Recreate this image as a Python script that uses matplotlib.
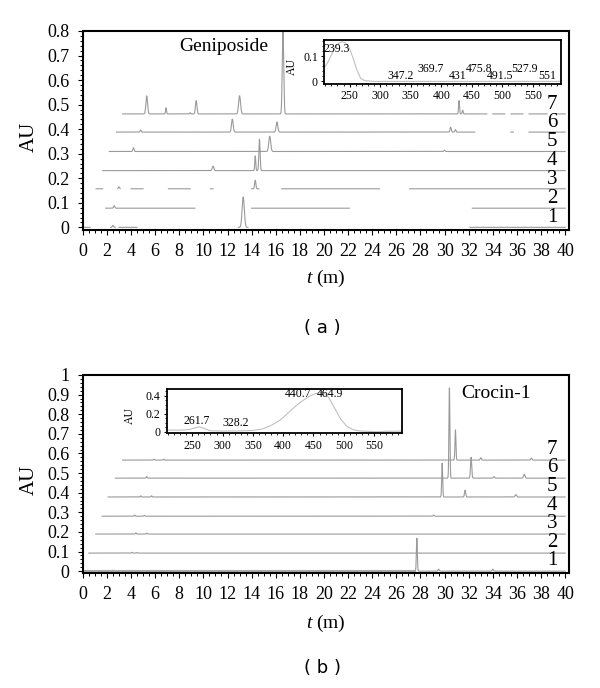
import numpy as np
import matplotlib
matplotlib.use("Agg")
import matplotlib.pyplot as plt
from matplotlib.ticker import MultipleLocator, FuncFormatter

plt.rcParams['font.family'] = ['Liberation Serif', 'DejaVu Serif']
plt.rcParams['mathtext.fontset'] = 'custom'
plt.rcParams['mathtext.it'] = 'Liberation Serif:italic'
plt.rcParams['mathtext.rm'] = 'Liberation Serif'

# ---- chromatograms (a): baseline, start time, peaks (time, height, sigma), visible spans
gen_base = [0.0, 0.078, 0.157, 0.231, 0.309, 0.388, 0.462]
gen_start = [0.0, 1.9, 1.1, 1.65, 2.2, 2.8, 3.3]
gen_peaks = [
    [(2.5, 0.008, 0.05), (13.3, 0.124, 0.09)],
    [(2.6, 0.010, 0.05)],
    [(3.0, 0.008, 0.05), (14.3, 0.035, 0.05)],
    [(10.8, 0.018, 0.07), (14.3, 0.060, 0.04), (14.65, 0.128, 0.05)],
    [(4.2, 0.015, 0.05), (15.5, 0.062, 0.08), (30.0, 0.005, 0.05)],
    [(4.8, 0.008, 0.05), (12.4, 0.053, 0.07), (16.1, 0.041, 0.07),
     (30.5, 0.020, 0.05), (30.9, 0.010, 0.05)],
    [(5.3, 0.074, 0.07), (6.9, 0.025, 0.04), (8.9, 0.005, 0.04), (9.4, 0.054, 0.06),
     (13.0, 0.074, 0.08), (16.6, 0.335, 0.06), (31.2, 0.054, 0.04), (31.5, 0.015, 0.04)],
]
gen_spans = [
    [(0, 0.6), (2.3, 2.7), (3.0, 4.5), (12.9, 13.7), (32.1, 40)],
    [(1.9, 9.3), (14.0, 22.1), (32.3, 40)],
    [(1.1, 1.65), (2.9, 3.1), (4.0, 5.0), (7.1, 8.9), (10.6, 10.8), (14.0, 14.6),
     (16.5, 24.6), (27.1, 40)],
    [(1.65, 40)],
    [(2.2, 40)],
    [(2.8, 32.5), (35.5, 35.7), (37.0, 40)],
    [(3.3, 33.5), (34.0, 35.0), (35.5, 36.5), (37.0, 38.5), (39.2, 40)],
]

# ---- chromatograms (b)
cro_base = [0.0, 0.092, 0.189, 0.28, 0.378, 0.474, 0.566]
cro_start = [0.0, 0.5, 1.07, 1.6, 2.1, 2.7, 3.3]
cro_peaks = [
    [(2.5, 0.005, 0.05), (27.7, 0.168, 0.04), (29.5, 0.010, 0.05), (34.0, 0.010, 0.05)],
    [(4.1, 0.004, 0.04), (4.5, 0.003, 0.04)],
    [(4.4, 0.006, 0.04), (5.3, 0.005, 0.04)],
    [(4.3, 0.006, 0.04), (5.1, 0.005, 0.04), (29.1, 0.006, 0.05)],
    [(4.8, 0.006, 0.04), (5.7, 0.006, 0.04), (29.8, 0.172, 0.04),
     (31.7, 0.035, 0.05), (35.9, 0.012, 0.06)],
    [(5.3, 0.008, 0.04), (30.4, 0.460, 0.04), (32.2, 0.106, 0.05),
     (34.1, 0.008, 0.05), (36.6, 0.020, 0.06)],
    [(5.9, 0.005, 0.04), (6.7, 0.005, 0.04), (30.9, 0.154, 0.04),
     (33.0, 0.012, 0.05), (37.2, 0.010, 0.05)],
]

# ---- UV spectra (insets)
gen_wl = [209, 214, 220, 226, 232, 238, 244, 250, 256, 262, 268, 275, 290, 400, 500, 596]
gen_au = [0.055, 0.075, 0.105, 0.135, 0.152, 0.158, 0.152, 0.13, 0.09, 0.045, 0.012,
          0.003, 0.0, 0.0, 0.0, 0.0]
gen_lbl = ['239.3', '347.2', '369.7', '431', '475.8', '491.5', '527.9', '551']
gen_lbl_x = [228, 334, 382, 426, 462, 496, 537, 574]
gen_lbl_y = [0.13, 0.02, 0.05, 0.02, 0.05, 0.02, 0.05, 0.02]

cro_wl = [208, 230, 245, 255, 262, 270, 280, 300, 330, 350, 365, 380, 395, 410, 425,
          440, 452, 465, 475, 485, 495, 505, 515, 525, 540, 555, 565, 596]
cro_au = [0.02, 0.018, 0.025, 0.045, 0.055, 0.035, 0.012, 0.008, 0.01, 0.015, 0.03,
          0.07, 0.13, 0.22, 0.31, 0.38, 0.42, 0.44, 0.38, 0.26, 0.14, 0.06, 0.025,
          0.01, 0.005, 0.0, 0.005, 0.008]
cro_lbl = ['261.7', '328.2', '440.7', '464.9']
cro_lbl_x = [257, 322, 424, 477]
cro_lbl_y = [0.124, 0.10, 0.415, 0.415]

labels = ['1', '2', '3', '4', '5', '6', '7']

t = np.linspace(0, 40, 4001)
line_col = '#9a9a9a'


def build(base, start, peaks, spans=None):
    y = np.full_like(t, base)
    for p, h, w in peaks:
        y = y + h * np.exp(-0.5 * ((t - p) / w) ** 2)
    mask = t >= start
    if spans is not None:
        vis = np.zeros_like(t, dtype=bool)
        for a, b in spans:
            vis |= (t >= a) & (t <= b)
        mask &= vis
    y[~mask] = np.nan
    return y


def style_main(ax, ymax, yminor):
    ax.set_xlim(0, 40.3)
    ax.set_ylim(-0.01, ymax)
    ax.xaxis.set_major_locator(MultipleLocator(2))
    ax.xaxis.set_minor_locator(MultipleLocator(0.5))
    ax.yaxis.set_major_locator(MultipleLocator(0.1))
    ax.yaxis.set_minor_locator(MultipleLocator(yminor))
    ax.yaxis.set_major_formatter(FuncFormatter(lambda v, p: '%g' % round(v, 2)))
    ax.tick_params(which='major', direction='out', length=3.5, width=0.8,
                   labelsize=13, pad=6)
    ax.tick_params(which='minor', direction='out', length=2, width=0.7)
    for s in ax.spines.values():
        s.set_linewidth(1.5)
    ax.set_ylabel('AU', fontsize=15)
    ax.yaxis.set_label_coords(-0.09, 0.47)
    ax.set_xlabel(r'$t$ (m)', fontsize=14)


def style_inset(ax, ylim, ymajor, yminor):
    ax.set_xlim(208, 596)
    ax.set_ylim(*ylim)
    ax.xaxis.set_major_locator(MultipleLocator(50))
    ax.xaxis.set_minor_locator(MultipleLocator(10))
    ax.yaxis.set_major_locator(MultipleLocator(ymajor))
    ax.yaxis.set_minor_locator(MultipleLocator(yminor))
    ax.yaxis.set_major_formatter(FuncFormatter(lambda v, p: '%g' % round(v, 2)))
    ax.tick_params(which='major', direction='out', length=2.5, width=0.8,
                   labelsize=8.5, pad=2)
    ax.tick_params(which='minor', direction='out', length=1.5, width=0.6)
    for s in ax.spines.values():
        s.set_linewidth(1.3)
    ax.set_ylabel('AU', fontsize=8.5)


fig = plt.figure(figsize=(6, 6.88), dpi=100)

# ---------- panel (a)
ax1 = fig.add_axes([0.138, 0.666, 0.81, 0.289])
for i in range(7):
    y = build(gen_base[i], gen_start[i], gen_peaks[i], gen_spans[i])
    ax1.plot(t, y, color=line_col, lw=0.8)
    ax1.annotate(labels[i], (38.9, gen_base[i]), xytext=(0, 7), textcoords='offset points',
                 ha='center', va='center', fontsize=15)
style_main(ax1, 0.8, 0.02)
ax1.xaxis.set_label_coords(0.5, -0.19)
ax1.text(11.7, 0.738, 'Geniposide', fontsize=14, ha='center', va='center')

ins1 = fig.add_axes([0.54, 0.878, 0.395, 0.064])
ins1.plot(gen_wl, gen_au, color='#c0c0c0', lw=0.8)
style_inset(ins1, (-0.01, 0.165), 0.1, 0.02)
ins1.yaxis.set_label_coords(-0.11, 0.4)
for s, x, y in zip(gen_lbl, gen_lbl_x, gen_lbl_y):
    ins1.text(x, y, s, fontsize=8.5, ha='center', va='center')

# ---------- panel (b)
ax2 = fig.add_axes([0.138, 0.167, 0.81, 0.288])
for i in range(7):
    y = build(cro_base[i], cro_start[i], cro_peaks[i])
    ax2.plot(t, y, color=line_col, lw=0.8)
    ax2.annotate(labels[i], (38.9, cro_base[i]), xytext=(0, 7.5), textcoords='offset points',
                 ha='center', va='center', fontsize=15)
ax2.plot([0, 27.5], [0.003, 0.003], color='#a8a8a8', lw=2.2)
style_main(ax2, 1.0, 0.02)
ax2.xaxis.set_label_coords(0.5, -0.2)
ax2.text(34.3, 0.903, 'Crocin-1', fontsize=14, ha='center', va='center')

ins2 = fig.add_axes([0.278, 0.370, 0.392, 0.065])
ins2.plot(cro_wl, cro_au, color='#c0c0c0', lw=0.8)
style_inset(ins2, (-0.018, 0.476), 0.2, 0.05)
ins2.yaxis.set_label_coords(-0.13, 0.4)
for s, x, y in zip(cro_lbl, cro_lbl_x, cro_lbl_y):
    ins2.text(x, y, s, fontsize=8.5, ha='center', va='center')

fig.text(0.538, 0.523, '( a )', family='DejaVu Sans', fontsize=13, ha='center', va='center')
fig.text(0.538, 0.029, '( b )', family='DejaVu Sans', fontsize=13, ha='center', va='center')

fig.savefig('out.png', dpi=100)
